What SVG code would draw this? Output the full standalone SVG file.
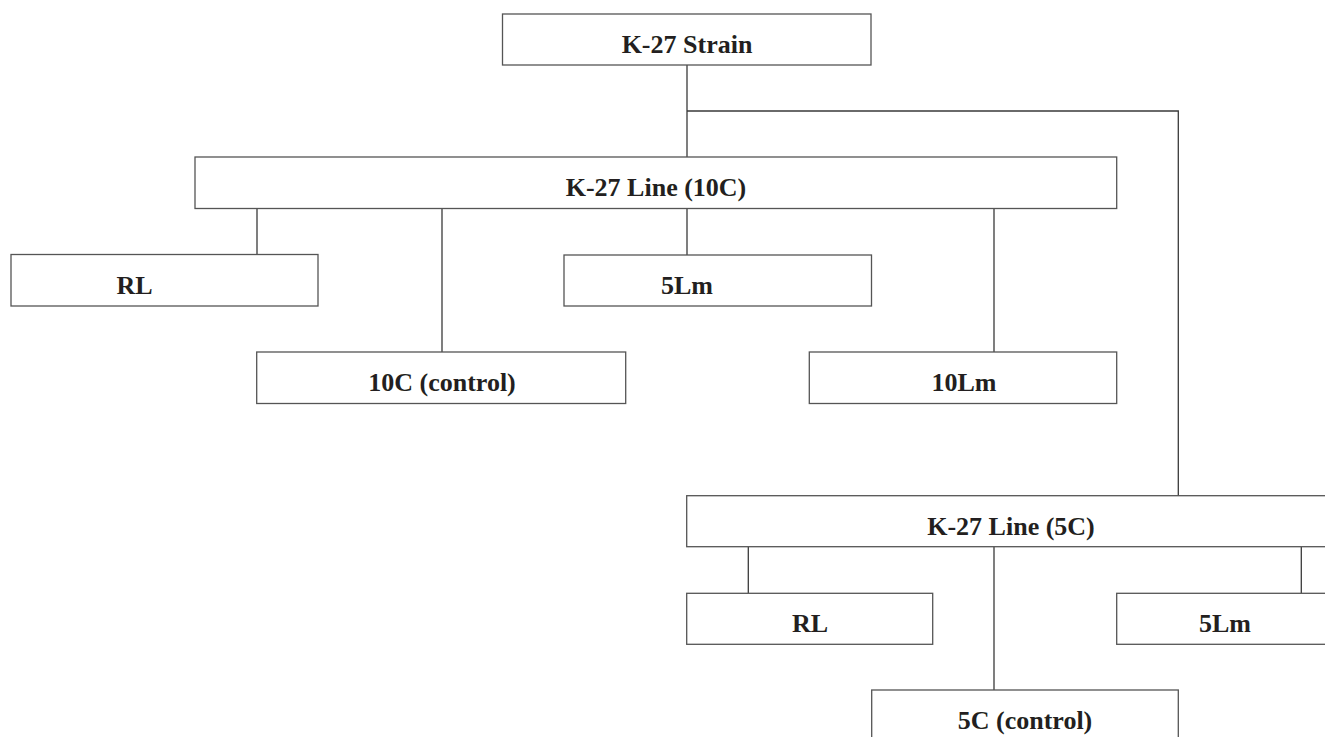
<svg xmlns="http://www.w3.org/2000/svg" width="1325" height="737" viewBox="0 0 1325 737">
<style>
.box{fill:#ffffff;stroke:#555555;stroke-width:1.3}
.lbl{font-family:"Liberation Serif","Times New Roman",serif;font-weight:bold;font-size:26px;fill:#231f20;text-anchor:middle}
.conn{fill:none;stroke:#3a3a3a;stroke-width:1.3}
</style>
<rect width="1325" height="737" fill="#ffffff"/>
<g id="connectors">
<path class="conn" d="M687,65 V157"/>
<path class="conn" d="M687,111 H1178.3 V496"/>
<path class="conn" d="M257,208.5 V254.5"/>
<path class="conn" d="M442,208.5 V352"/>
<path class="conn" d="M687,208.5 V255"/>
<path class="conn" d="M994,208.5 V352"/>
<path class="conn" d="M748.3,546.7 V593.3"/>
<path class="conn" d="M994,546.7 V690"/>
<path class="conn" d="M1301.3,546.7 V593.3"/>
</g>
<g id="strain"><rect class="box" x="502.5" y="14" width="368.5" height="51"/><text class="lbl" x="687" y="53">K-27 Strain</text></g>
<g id="line10"><rect class="box" x="195" y="157" width="921.7" height="51.5"/><text class="lbl" x="656" y="196">K-27 Line (10C)</text></g>
<g id="rl10"><rect class="box" x="11" y="254.5" width="307" height="51.5"/><text class="lbl" x="134.5" y="294">RL</text></g>
<g id="lm5_10"><rect class="box" x="564" y="255" width="307.5" height="51"/><text class="lbl" x="687" y="294">5Lm</text></g>
<g id="c10"><rect class="box" x="256.7" y="352" width="369" height="51.5"/><text class="lbl" x="442" y="391">10C (control)</text></g>
<g id="lm10"><rect class="box" x="809.3" y="352" width="307.4" height="51.5"/><text class="lbl" x="964" y="391">10Lm</text></g>
<g id="line5"><rect class="box" x="686.7" y="495.7" width="648" height="51"/><text class="lbl" x="1011" y="535">K-27 Line (5C)</text></g>
<g id="rl5"><rect class="box" x="686.7" y="593.3" width="246" height="51"/><text class="lbl" x="810" y="632.3">RL</text></g>
<g id="lm5_5"><rect class="box" x="1116.7" y="593.3" width="216" height="51"/><text class="lbl" x="1225" y="632.3">5Lm</text></g>
<g id="c5"><rect class="box" x="871.7" y="690" width="306.6" height="51"/><text class="lbl" x="1025" y="729">5C (control)</text></g>
</svg>
